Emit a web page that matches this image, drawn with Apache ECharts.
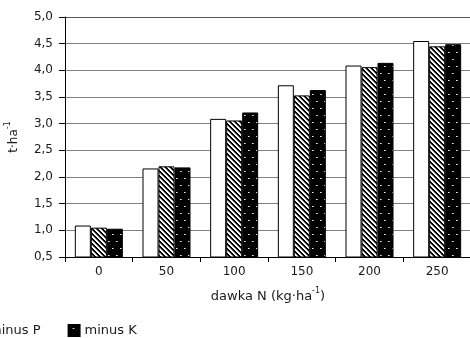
<!DOCTYPE html>
<html>
<head>
<meta charset="utf-8">
<script src="https://cdn.jsdelivr.net/npm/echarts@6/dist/echarts.min.js"></script>
<style>
  html, body { margin: 0; padding: 0; background: #fff; }
  #chart { width: 470px; height: 338px; }
</style>
</head>
<body>
<div id="chart"></div>
<script>
// Nitrogen rate categories (kg·ha-1)
const doses = ['0', '50', '100', '150', '200', '250'];
// Yield, t·ha-1
const seriesNames = ['NPK', 'minus P', 'minus K'];
const yieldNPK    = [1.09, 2.16, 3.09, 3.72, 4.09, 4.55];
const yieldMinusP = [1.05, 2.20, 3.06, 3.53, 4.06, 4.45];
const yieldMinusK = [1.03, 2.18, 3.21, 3.63, 4.14, 4.49];
// Value axis ticks
const yMin = 0.5, yMax = 5.0, yStep = 0.5;

// Diagonal hatch fill (black with white "\" stripes)
function hatchPattern() {
  const c = document.createElement('canvas');
  c.width = 5; c.height = 5;
  const g = c.getContext('2d');
  g.fillStyle = '#000';
  g.fillRect(0, 0, 5, 5);
  for (let y = 0; y < 5; y++) {
    for (let x = 0; x < 5; x++) {
      const k = ((x - y) % 5 + 5) % 5;
      if (k === 0 || k === 1) { g.fillStyle = '#fff'; g.fillRect(x, y, 1, 1); }
      else if (k === 2) { g.fillStyle = '#8a8a8a'; g.fillRect(x, y, 1, 1); }
    }
  }
  return { image: c, repeat: 'repeat' };
}

// Black fill with sparse staggered white dots
function dotPattern() {
  const c = document.createElement('canvas');
  c.width = 8; c.height = 14;
  const g = c.getContext('2d');
  g.fillStyle = '#000';
  g.fillRect(0, 0, 8, 14);
  g.fillStyle = '#e8e8e8';
  g.fillRect(4, 3, 1, 1);
  g.fillRect(0, 10, 1, 1);
  g.fillStyle = '#9a9a9a';
  g.fillRect(5, 3, 1, 1);
  g.fillRect(1, 10, 1, 1);
  return { image: c, repeat: 'repeat' };
}

const fills = ['#ffffff', hatchPattern(), dotPattern()];
const values = [yieldNPK, yieldMinusP, yieldMinusK];
const font = 'DejaVu Sans';
const gridColors = ['#808080', '#808080', '#808080', '#808080', '#808080',
                    '#808080', '#808080', '#808080', '#808080', '#555555'];

const chart = echarts.init(document.getElementById('chart'), null, { renderer: 'canvas' });
chart.setOption({
  animation: false,
  backgroundColor: '#ffffff',
  textStyle: { fontFamily: font, color: '#1a1a1a' },
  grid: {
    left: 65, top: 17, width: 406, height: 240,
    containLabel: false,
    outerBoundsMode: 'none'
  },
  legend: {
    data: seriesNames,
    left: -103,
    top: 319,
    itemWidth: 11,
    itemHeight: 11,
    itemGap: 27,
    icon: 'rect',
    textStyle: { fontFamily: font, fontSize: 13, color: '#1a1a1a' }
  },
  xAxis: {
    type: 'category',
    data: doses,
    name: '{n|dawka N (kg·ha}{s|-1}{n|)}',
    nameLocation: 'middle',
    nameGap: 30,
    nameTextStyle: {
      rich: {
        n: { fontFamily: font, fontSize: 13, color: '#1a1a1a', lineHeight: 16, verticalAlign: 'bottom' },
        s: { fontFamily: font, fontSize: 8, color: '#1a1a1a', lineHeight: 16, verticalAlign: 'top' }
      }
    },
    axisLine: { show: true, lineStyle: { color: '#000', width: 1 } },
    axisTick: { show: true, length: 5, alignWithLabel: false, lineStyle: { color: '#000' } },
    axisLabel: { margin: 9, fontSize: 12, fontFamily: font, color: '#1a1a1a' },
    splitLine: { show: false }
  },
  yAxis: {
    type: 'value',
    min: yMin,
    max: yMax,
    interval: yStep,
    name: '{n|t·ha}{s|-1}',
    nameLocation: 'middle',
    nameRotate: 90,
    nameGap: 45,
    nameTextStyle: {
      rich: {
        n: { fontFamily: font, fontSize: 12, color: '#1a1a1a', lineHeight: 16, verticalAlign: 'bottom' },
        s: { fontFamily: font, fontSize: 8, color: '#1a1a1a', lineHeight: 16, verticalAlign: 'top' }
      }
    },
    axisLine: { show: true, lineStyle: { color: '#000', width: 1 } },
    axisTick: { show: true, length: 6, lineStyle: { color: '#000' } },
    axisLabel: {
      margin: 12,
      fontSize: 12,
      fontFamily: font,
      color: '#1a1a1a',
      formatter: v => v.toFixed(1).replace('.', ',')
    },
    splitLine: { show: true, lineStyle: { color: gridColors, width: 1 } }
  },
  series: seriesNames.map((name, i) => ({
    name: name,
    type: 'bar',
    data: values[i],
    barWidth: 16,
    barGap: '0%',
    itemStyle: { color: fills[i], borderColor: '#000', borderWidth: 1 },
    emphasis: { disabled: true }
  }))
});
</script>
</body>
</html>
